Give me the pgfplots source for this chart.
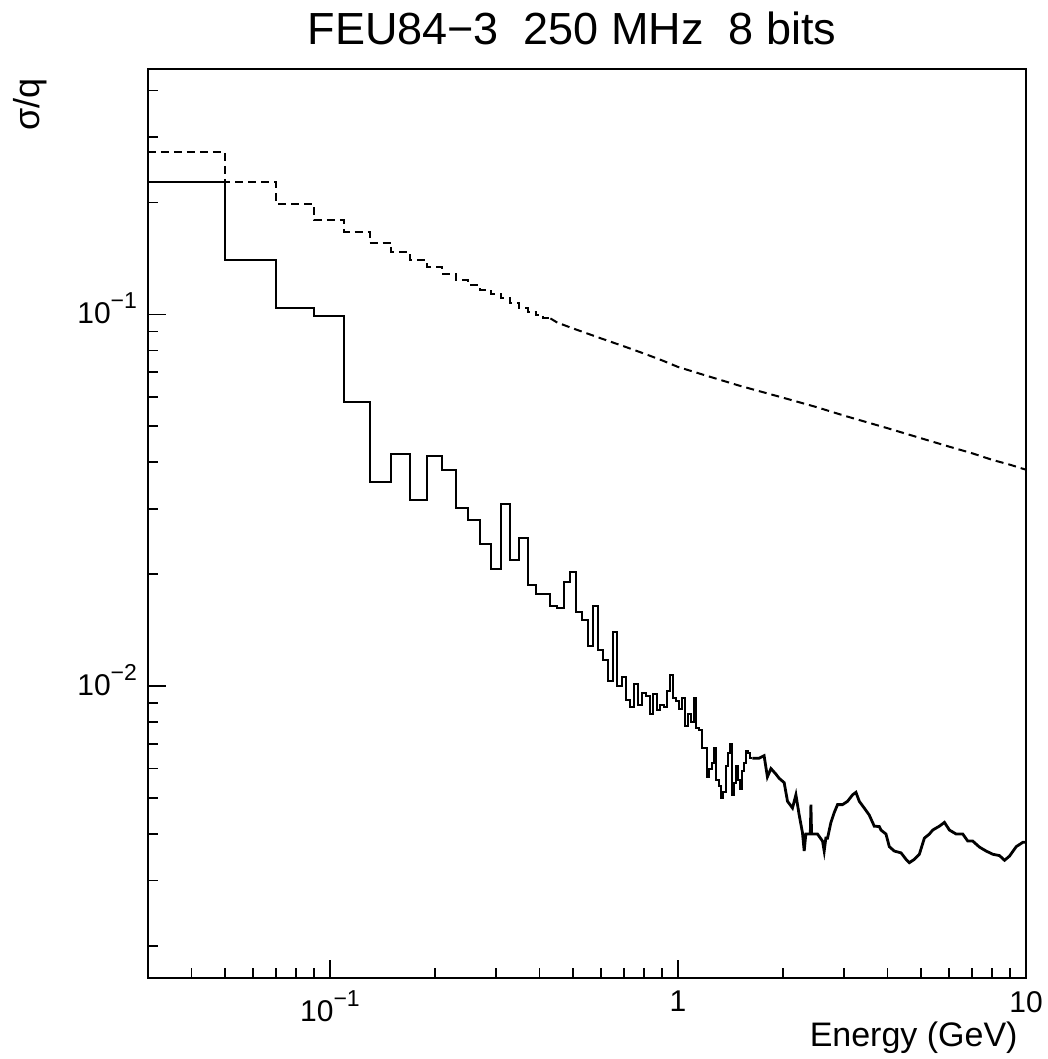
\documentclass[border=0pt]{standalone}
\usepackage{pgfplots}
\pgfplotsset{compat=1.18}
\usepackage{fontspec}
\setmainfont{Liberation Sans}
\setsansfont{Liberation Sans}
\newcommand{\expo}[1]{\raisebox{7.5pt}{\fontsize{11.5}{12}\selectfont #1}}
\begin{document}
\begin{tikzpicture}[x=1pt,y=1pt]
\useasboundingbox (0,0) rectangle (524,529.5);
\begin{axis}[
  at={(74pt,40.5pt)}, anchor=south west,
  scale only axis, width=439pt, height=454.5pt,
  xmode=log, ymode=log,
  xmin=0.03, xmax=10, ymin=0.00164, ymax=0.457,
  axis line style={line width=1pt},
  tick align=inside, xtick pos=bottom, ytick pos=left,
  major tick length=9pt, minor tick length=5pt,
  every tick/.style={line width=0.8pt, black},
  xtick={0.1,1,10}, xticklabels={10\expo{−1},1,10},
  minor xtick={0.04,0.05,0.06,0.07,0.08,0.09,0.2,0.3,0.4,0.5,0.6,0.7,0.8,0.9,2,3,4,5,6,7,8,9},
  ytick={0.01,0.1}, yticklabels={10\expo{−2},10\expo{−1}},
  minor ytick={0.002,0.003,0.004,0.005,0.006,0.007,0.008,0.009,0.02,0.03,0.04,0.05,0.06,0.07,0.08,0.09,0.2,0.3,0.4},
  ticklabel style={font=\fontsize{15}{18}\selectfont},
  xticklabel style={yshift=-3pt},
  yticklabel style={xshift=-2pt, yshift=3pt},
  clip=true,
]
% dashed series, binned part
\addplot[const plot, black, line width=1pt, dash pattern=on 4pt off 2.5pt] coordinates {
(0.03,0.273) (0.05,0.227) (0.07,0.198) (0.09,0.179) (0.11,0.167) (0.13,0.156)
(0.15,0.147) (0.17,0.140) (0.19,0.134) (0.21,0.1285) (0.23,0.1238) (0.25,0.120)
(0.27,0.1164) (0.29,0.1133) (0.31,0.1104) (0.33,0.1072) (0.35,0.1040) (0.37,0.1017)
(0.39,0.0995) (0.41,0.0975) (0.43,0.0975)
};
\addplot[black, line width=1pt, dash pattern=on 4pt off 2.5pt] coordinates {
(0.43,0.0975) (0.45,0.0950) (0.5,0.0916) (0.6,0.0862) (0.7,0.0820) (0.8,0.0784)
(0.9,0.0752) (1.0,0.0722) (1.2,0.0685) (1.5,0.0643) (2.0,0.0597) (2.5,0.0563)
(3.0,0.0534) (4.0,0.0494) (5.0,0.0464) (6.0,0.0441) (7.0,0.0423) (8.0,0.0406)
(9.0,0.0394) (10,0.0382)
};
% solid series, binned part
\addplot[const plot, black, line width=1pt] coordinates {
(0.03,0.227) (0.05,0.1397) (0.07,0.1038) (0.09,0.0990) (0.11,0.0581) (0.13,0.0355)
(0.15,0.0422) (0.17,0.0317) (0.19,0.0416) (0.21,0.0381) (0.23,0.0301) (0.25,0.0280)
(0.27,0.0241) (0.29,0.0206) (0.31,0.0309) (0.33,0.0219) (0.35,0.0250) (0.37,0.0187)
(0.39,0.0177) (0.41,0.0177) (0.43,0.0164) (0.45,0.0162) (0.47,0.0191) (0.49,0.0203)
(0.51,0.0158) (0.53,0.0151) (0.55,0.0128) (0.57,0.0164) (0.59,0.01253) (0.61,0.01178)
(0.63,0.01035) (0.65,0.0140) (0.67,0.00998) (0.69,0.0106) (0.71,0.0092) (0.73,0.0088)
(0.75,0.0101) (0.77,0.0089) (0.79,0.0096) (0.81,0.0094) (0.83,0.0084) (0.85,0.0095)
(0.87,0.0086) (0.89,0.0089) (0.91,0.0088) (0.93,0.0097) (0.95,0.0107) (0.97,0.0093)
(0.99,0.0091) (1.01,0.0087) (1.03,0.0093) (1.05,0.0078) (1.07,0.0084) (1.09,0.0080)
(1.11,0.0093) (1.13,0.0077) (1.15,0.0076) (1.17,0.0068) (1.19,0.0068) (1.21,0.0057)
(1.23,0.0060) (1.25,0.0062) (1.27,0.0068) (1.29,0.0056) (1.31,0.0054) (1.33,0.0050)
(1.35,0.0052) (1.37,0.0061) (1.39,0.0066) (1.41,0.0070) (1.43,0.0051) (1.45,0.0055)
(1.47,0.0061) (1.49,0.0056) (1.51,0.0053) (1.53,0.0059) (1.55,0.0062) (1.57,0.0067)
(1.59,0.0066) (1.61,0.0064) (1.636,0.0064)
};
% solid series, dense part
\addplot[black, line width=1.4pt] coordinates {
(1.636,0.0064) (1.711,0.0064) (1.768,0.0065) (1.807,0.0057) (1.85,0.0060) (1.911,0.0058)
(1.953,0.00565) (2.019,0.0055) (2.064,0.0049) (2.133,0.0047) (2.182,0.0051) (2.230,0.0045)
(2.279,0.00403) (2.305,0.0036) (2.33,0.0040) (2.356,0.0040) (2.40,0.0040) (2.41,0.0048)
(2.42,0.0040) (2.517,0.0040) (2.602,0.00383) (2.631,0.0036) (2.66,0.0039) (2.69,0.0039)
(2.751,0.0043) (2.812,0.00457) (2.874,0.0048) (2.971,0.0048) (3.071,0.0049) (3.175,0.0051)
(3.246,0.00518) (3.318,0.0049) (3.429,0.0047) (3.545,0.0045) (3.665,0.0042) (3.788,0.00419)
(3.831,0.0041) (3.960,0.0040) (4.048,0.0037) (4.184,0.0036) (4.375,0.00356) (4.522,0.00342)
(4.622,0.00335) (4.777,0.00342) (4.938,0.00353) (5.105,0.0039) (5.277,0.0040) (5.394,0.0041)
(5.638,0.0042) (5.829,0.0043) (6.026,0.0041) (6.299,0.0040) (6.581,0.0040) (6.803,0.00383)
(7.031,0.00383) (7.349,0.00369) (7.684,0.0036) (8.028,0.00353) (8.393,0.0035) (8.676,0.0034)
(8.967,0.00349) (9.374,0.0037) (9.793,0.0038) (10,0.0038)
};
\end{axis}
\node[anchor=base, font=\fontsize{22.5}{27}\selectfont] at (286,507) {FEU84−3\ \ 250 MHz\ \ 8 bits};
\node[anchor=east, rotate=90, font=\fontsize{18}{21}\selectfont] at (15,494) {σ/q};
\node[anchor=base east, fill=white, inner sep=1pt, font=\fontsize{17}{20}\selectfont] at (510,6) {Energy (GeV)};
\end{tikzpicture}
\end{document}
